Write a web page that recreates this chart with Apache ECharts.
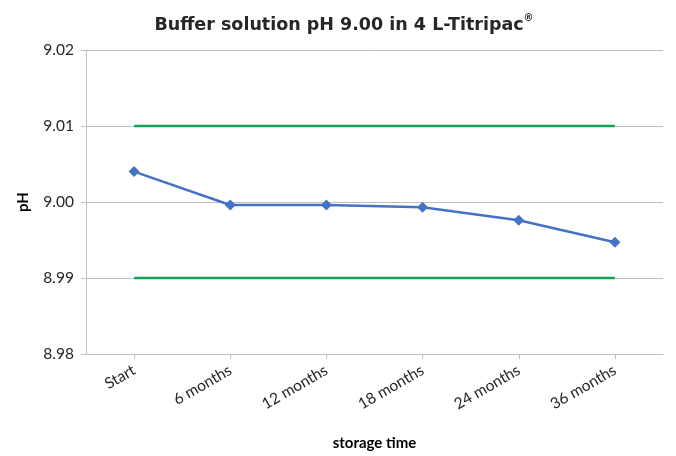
<!DOCTYPE html>
<html><head><meta charset="utf-8">
<script src="https://cdn.jsdelivr.net/npm/echarts@6/dist/echarts.min.js"></script>
<style>html,body{margin:0;padding:0;background:#fff}#c{width:676px;height:456px}</style>
</head><body><div id="c"></div>
<script>
const categories = ['Start', '6 months', '12 months', '18 months', '24 months', '36 months'];
const phValues = [9.0040, 8.9996, 8.9996, 8.9993, 8.9976, 8.9947];
const upperLimit = [9.01, 9.01, 9.01, 9.01, 9.01, 9.01];
const lowerLimit = [8.99, 8.99, 8.99, 8.99, 8.99, 8.99];
const yTicks = [8.98, 8.99, 9.00, 9.01, 9.02];

const chart = echarts.init(document.getElementById('c'));
const labelFont = 'Lato, "Open Sans", sans-serif';
const titleFont = '"DejaVu Sans", Verdana, sans-serif';
chart.setOption({
  animation: false,
  title: {
    text: '{m|Buffer solution pH 9.00 in 4 L-Titripac}{s|®}',
    left: 339, top: 8, textAlign: 'center',
    textStyle: {
      rich: {
        m: {fontFamily: titleFont, fontWeight: 'bold', fontSize: 17.5, color: '#262626', lineHeight: 24},
        s: {fontFamily: titleFont, fontSize: 10, color: '#262626', verticalAlign: 'top', padding: [0, 0, 8, 0], lineHeight: 24}
      }
    }
  },
  grid: {left: 86, right: 13, top: 50, bottom: 98},
  xAxis: {
    type: 'category', data: categories, boundaryGap: true,
    name: 'storage time', nameLocation: 'middle', nameGap: 82,
    nameTextStyle: {fontFamily: labelFont, fontWeight: 'bold', fontSize: 15, color: '#000'},
    axisLine: {lineStyle: {color: '#BFBFBF', width: 1}},
    axisTick: {show: true, alignWithLabel: true, length: 5, lineStyle: {color: '#BFBFBF'}},
    axisLabel: {rotate: 30, fontFamily: labelFont, fontSize: 15.5, color: '#262626', margin: 15}
  },
  yAxis: {
    type: 'value', min: yTicks[0], max: yTicks[yTicks.length - 1], interval: 0.01,
    name: 'pH', nameLocation: 'middle', nameGap: 55,
    nameTextStyle: {fontFamily: labelFont, fontWeight: 'bold', fontSize: 15, color: '#000'},
    axisLine: {show: true, lineStyle: {color: '#BFBFBF', width: 1}},
    axisTick: {show: true, length: 5, lineStyle: {color: '#BFBFBF'}},
    splitLine: {lineStyle: {color: '#BFBFBF', width: 1}},
    axisLabel: {fontFamily: labelFont, fontSize: 15.5, color: '#262626', margin: 12,
      formatter: v => v.toFixed(2)}
  },
  series: [
    {type: 'line', data: upperLimit, symbol: 'none', lineStyle: {color: '#17A05A', width: 2.5}, silent: true},
    {type: 'line', data: lowerLimit, symbol: 'none', lineStyle: {color: '#17A05A', width: 2.5}, silent: true},
    {type: 'line', data: phValues, symbol: 'diamond', symbolSize: 11,
      itemStyle: {color: '#4472C4'}, lineStyle: {color: '#4472C4', width: 2.5}}
  ]
});
</script></body></html>
